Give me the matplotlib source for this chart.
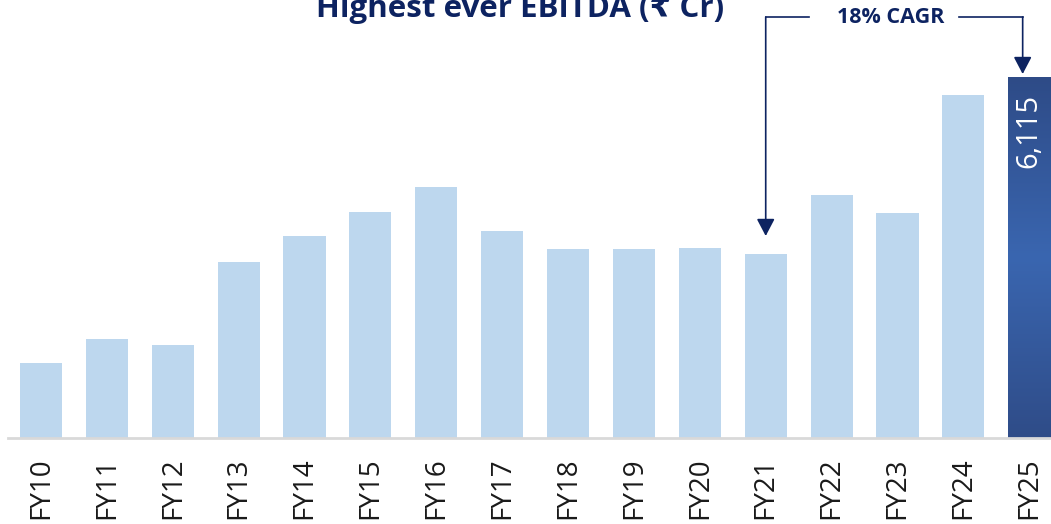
import numpy as np
import matplotlib.pyplot as plt
from matplotlib.colors import LinearSegmentedColormap

years=['FY10','FY11','FY12','FY13','FY14','FY15','FY16','FY17',
       'FY18','FY19','FY20','FY21','FY22','FY23','FY24','FY25']
ebitda=[1271,1677,1575,2981,3422,3828,4252,3507,3202,3202,3218,3117,4116,3811,5810,6115]
title='Highest ever EBITDA (\u20b9 Cr)'
cagr_label='18% CAGR'

plt.rcParams['font.family']=['Open Sans','DejaVu Sans']

navy='#0D2361'
light='#BDD7EE'

fig=plt.figure(figsize=(10.51,5.24),dpi=100)
ax=fig.add_axes([0,86/524,1,1-86/524])
x=np.arange(len(years))
bars=ax.bar(x[:-1],ebitda[:-1],width=0.64,color=light,zorder=2)
last=ax.bar(x[-1:],ebitda[-1:],width=0.64,color='none',zorder=2)[0]

# gradient on last bar
cmap=LinearSegmentedColormap.from_list('g',['#2E4B87','#3A66B0','#2F4C88'])
grad=np.linspace(0,1,256).reshape(-1,1)
bx=last.get_x()
im=ax.imshow(grad,cmap=cmap,aspect='auto',zorder=2,
             extent=[bx,bx+last.get_width(),0,ebitda[-1]],origin='upper')
im.set_clip_path(last)

ax.set_xlim(-0.622,15.33)
ax.set_ylim(0,7420)

for s in ['top','right','left']:
    ax.spines[s].set_visible(False)
ax.spines['bottom'].set_color('#D9D9D9')
ax.spines['bottom'].set_linewidth(2)
ax.spines['bottom'].set_bounds(-0.5,15.33)
ax.set_yticks([])
ax.set_xticks(x)
ax.set_xticklabels(years,rotation=90,fontsize=20,color='#1a1a1a')
ax.tick_params(axis='x',length=0,pad=14)

ax.text(x[-1],ebitda[-1]-280,'{:,}'.format(ebitda[-1]),rotation=90,color='white',
        ha='center',va='top',fontsize=21)

# CAGR arrows
ytop=7132
ax.plot([11,11.65],[ytop,ytop],color=navy,lw=1.2,clip_on=False)
ax.plot([13.93,14.9],[ytop,ytop],color=navy,lw=1.2,clip_on=False)
ap=dict(arrowstyle='-|>,head_width=0.55,head_length=1.05',color=navy,lw=1.2,
        shrinkA=0,shrinkB=0,mutation_scale=10)
ax.annotate('',xy=(11,3422),xytext=(11,ytop),arrowprops=ap,annotation_clip=False)
ax.annotate('',xy=(14.9,6166),xytext=(14.9,ytop),arrowprops=ap,annotation_clip=False)
ax.text(12.89,ytop,cagr_label,ha='center',va='center',fontsize=15.5,
        fontweight='bold',color=navy)

fig.text(520/1051,1-17/524,title,ha='center',va='baseline',fontsize=22.5,
         fontweight='bold',color=navy)

fig.savefig('out.png',dpi=100)
